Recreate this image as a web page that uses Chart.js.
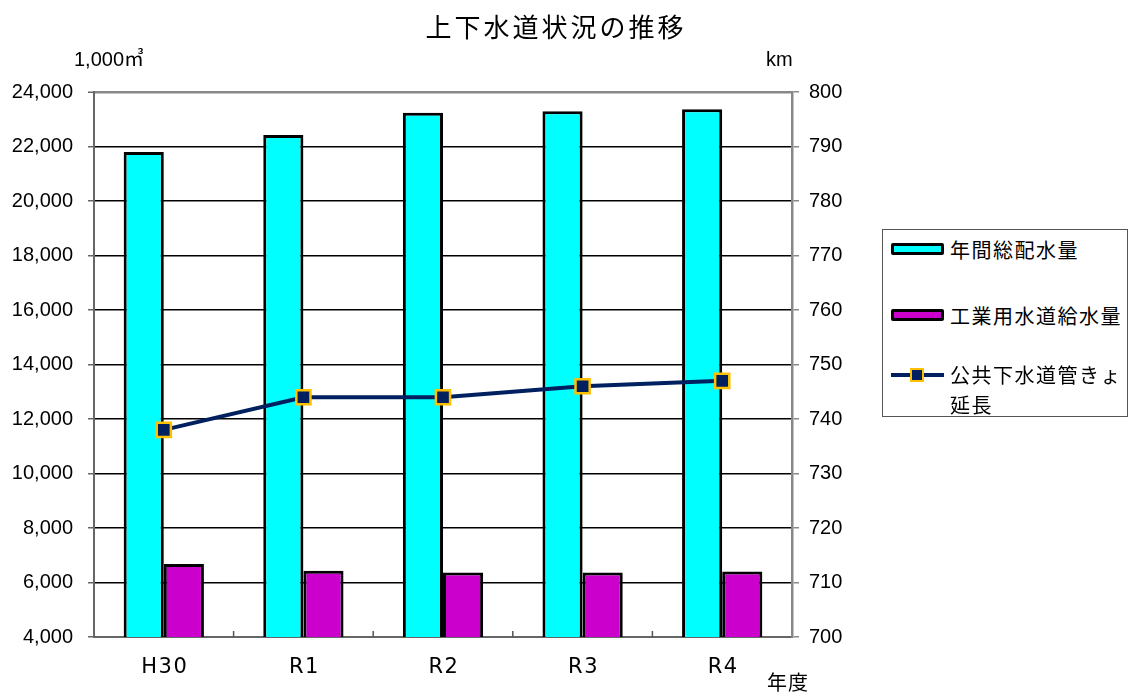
<!DOCTYPE html>
<html>
<head>
<meta charset="utf-8">
<script src="https://cdn.jsdelivr.net/npm/chart.js@4.4.1/dist/chart.umd.min.js"></script>
<style>
    body { margin: 0; background: #fff; }
    #wrap { position: relative; width: 1129px; height: 697px; }
    #legend {
        position: absolute; left: 882px; top: 229px; width: 246px; height: 188px;
        border: 1px solid #555; box-sizing: border-box; background: #fff;
        font-family: "Noto Sans CJK JP", sans-serif; font-size: 20px; letter-spacing: 1.5px; color: #000;
    }
    .item { position: absolute; left: 8px; display: flex; align-items: flex-start; }
    .sw { width: 53px; height: 16px; position: relative; margin-right: 6px; margin-top: 8px; flex: none; }
    .bar { position: absolute; left: 0; top: 0; width: 47px; height: 6px; border: 3px solid #000; border-radius: 2px; }
    .ln { position: absolute; left: 0; top: 5px; width: 53px; height: 4px; }
    .pt { position: absolute; left: 19px; top: 0; width: 10px; height: 10px; border: 2px solid #ffc000; }
    .txt { line-height: 30px; }
</style>
</head>
<body>
<div id="wrap">
    <canvas id="chart" width="1129" height="697"></canvas>
    <div id="legend"></div>
</div>
<script>
const years = ['H30', 'R1', 'R2', 'R3', 'R4'];
const haisuiryo = [21800, 22420, 23240, 23290, 23370];   // 年間総配水量 (1,000㎥)
const kogyoyo = [6680, 6430, 6370, 6370, 6400];          // 工業用水道給水量 (1,000㎥)
const gesuido = [738, 744, 744, 746, 747];               // 公共下水道管きょ延長 (km)
const leftRange = [4000, 24000, 2000];
const rightRange = [700, 800, 10];

const NAVY = '#002060';
const FONT = '"Liberation Sans", "Noto Sans CJK JP", sans-serif';

// title, unit labels and x labels
const textPlugin = {
    id: 'texts',
    afterDraw(chart) {
        const ctx = chart.ctx;
        ctx.save();
        ctx.fillStyle = '#000';
        ctx.textBaseline = 'middle';
        ctx.font = '26px "Noto Sans CJK JP", sans-serif';
        ctx.letterSpacing = '3px';
        ctx.textAlign = 'center';
        ctx.fillText('上下水道状況の推移', 556, 27);

        ctx.font = '20px ' + FONT;
        ctx.letterSpacing = '0px';
        ctx.textAlign = 'left';
        ctx.fillText('1,000㎥', 74, 60);
        ctx.fillText('km', 766, 60);
        ctx.letterSpacing = '1px';
        ctx.fillText('年度', 767, 684);

        // x category labels
        const x = chart.scales.x;
        ctx.font = '21px "DejaVu Sans", sans-serif';
        ctx.letterSpacing = '1.5px';
        ctx.textAlign = 'center';
        years.forEach((y, i) => {
            ctx.fillText(y, x.getPixelForValue(i) + 1, 668);
        });
        ctx.restore();
    }
};

// small inward ticks between categories on the x axis
const xTickPlugin = {
    id: 'xticks',
    afterDatasetsDraw(chart) {
        const x = chart.scales.x, ctx = chart.ctx;
        const bottom = chart.chartArea.bottom;
        ctx.save();
        ctx.strokeStyle = '#555';
        ctx.lineWidth = 1.5;
        for (let i = 1; i < years.length; i++) {
            const px = (x.getPixelForValue(i - 1) + x.getPixelForValue(i)) / 2;
            ctx.beginPath();
            ctx.moveTo(px, bottom);
            ctx.lineTo(px, bottom - 6);
            ctx.stroke();
        }
        ctx.restore();
    }
};

const chart = new Chart(document.getElementById('chart'), {
    type: 'bar',
    data: {
        labels: years,
        datasets: [
            {
                label: '年間総配水量',
                data: haisuiryo,
                backgroundColor: '#00ffff',
                borderColor: '#000',
                borderWidth: 3,
                yAxisID: 'y',
                order: 1
            },
            {
                label: '工業用水道給水量',
                data: kogyoyo,
                backgroundColor: '#cc00cc',
                borderColor: '#000',
                borderWidth: 3,
                yAxisID: 'y',
                order: 1
            },
            {
                type: 'line',
                label: '公共下水道管きょ\n延長',
                data: gesuido,
                borderColor: NAVY,
                borderWidth: 4,
                backgroundColor: NAVY,
                pointStyle: 'rect',
                pointRadius: 10,
                pointBorderColor: '#ffc000',
                pointBorderWidth: 2.5,
                pointBackgroundColor: NAVY,
                tension: 0,
                yAxisID: 'y1',
                order: 0
            }
        ]
    },
    options: {
        responsive: false,
        animation: false,
        datasets: { bar: { categoryPercentage: 0.575, barPercentage: 1 } },
        layout: { padding: { left: 0, right: 267, top: 92, bottom: 0 } },
        plugins: { legend: { display: false }, tooltip: { enabled: false } },
        scales: {
            x: {
                grid: { display: false, drawTicks: false },
                border: { color: '#666', width: 2 },
                ticks: { display: false },
                afterFit(s) { s.height = 60; }
            },
            y: {
                position: 'left',
                min: leftRange[0], max: leftRange[1],
                ticks: {
                    stepSize: leftRange[2], color: '#000', padding: 15,
                    font: { size: 20, family: FONT },
                    callback: v => v.toLocaleString('en-US')
                },
                grid: {
                    color: c => (c.tick && c.tick.value === leftRange[1]) ? '#888' : '#000',
                    lineWidth: c => (c.tick && c.tick.value === leftRange[1]) ? 2.5 : 1.5,
                    tickLength: 6, tickColor: '#666', tickWidth: 1.5
                },
                border: { color: '#666', width: 2 },
                afterFit(s) { s.width = 94; }
            },
            y1: {
                position: 'right',
                min: rightRange[0], max: rightRange[1],
                ticks: { stepSize: rightRange[2], color: '#000', padding: 10, font: { size: 20, family: FONT } },
                grid: { drawOnChartArea: false, tickLength: 7, color: '#888', lineWidth: 1.5 },
                border: { color: '#888', width: 2.5 },
                afterFit(s) { s.width = 70; }
            }
        }
    },
    plugins: [textPlugin, xTickPlugin]
});

// legend built from the chart's datasets
const legend = document.getElementById('legend');
const tops = [5, 71, 130];
chart.data.datasets.forEach((ds, i) => {
    const item = document.createElement('div');
    item.className = 'item';
    item.style.top = tops[i] + 'px';
    const sw = document.createElement('div');
    sw.className = 'sw';
    if (ds.type === 'line') {
        sw.innerHTML = '<div class="ln" style="background:' + ds.borderColor + '"></div>' +
            '<div class="pt" style="background:' + ds.pointBackgroundColor + '"></div>';
    } else {
        sw.innerHTML = '<div class="bar" style="background:' + ds.backgroundColor + '"></div>';
    }
    const txt = document.createElement('div');
    txt.className = 'txt';
    txt.innerHTML = ds.label.split('\n').join('<br>');
    item.appendChild(sw);
    item.appendChild(txt);
    legend.appendChild(item);
});
</script>
</body>
</html>
